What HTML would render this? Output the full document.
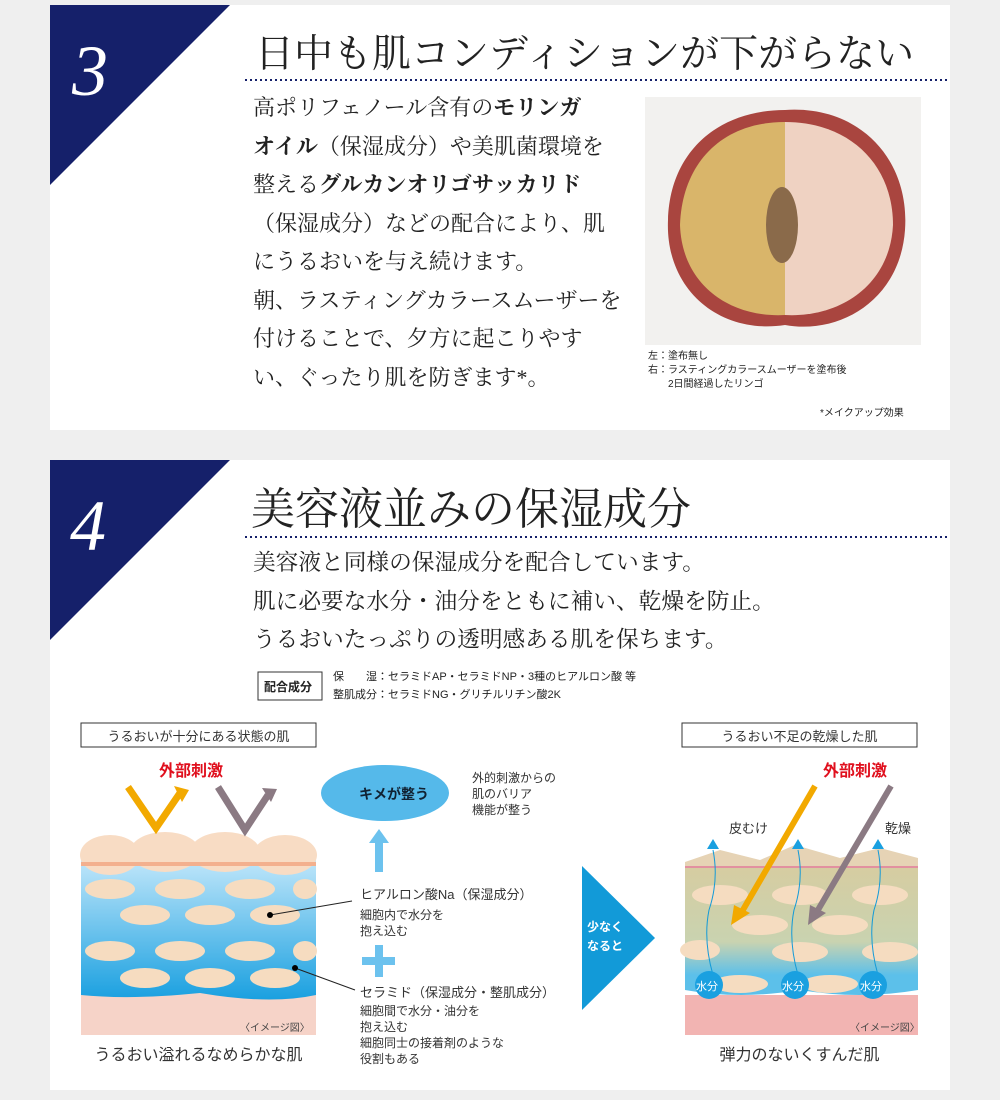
<!DOCTYPE html>
<html><head><meta charset="utf-8"><style>
body{margin:0;width:1000px;height:1100px;background:#efefef;position:relative;overflow:hidden;font-family:"Liberation Serif","Noto Serif CJK SC",serif;color:#222}
.a{position:absolute;white-space:nowrap}
.p{position:absolute;background:#fff}
.s{font-family:"Liberation Sans","Noto Sans CJK JP",sans-serif}
</style></head><body>
<div class="p" style="left:50px;top:5px;width:900px;height:425px"></div>
<div class="p" style="left:50px;top:460px;width:900px;height:630px"></div>
<svg class="a" style="left:0;top:0" width="1000" height="1100">
<polygon points="50,5 230,5 50,185" fill="#15206a"/>
<polygon points="50,460 230,460 50,640" fill="#15206a"/>
<text x="72" y="95" font-family="Liberation Serif" font-style="italic" font-size="72" fill="#fff">3</text>
<text x="70" y="550" font-family="Liberation Serif" font-style="italic" font-size="72" fill="#fff">4</text>
<line x1="245" y1="80" x2="950" y2="80" stroke="#15206a" stroke-width="2" stroke-dasharray="2,3"/>
<line x1="245" y1="537" x2="950" y2="537" stroke="#15206a" stroke-width="2" stroke-dasharray="2,3"/>
<!-- apple -->
<rect x="645" y="97" width="276" height="248" fill="#f2f1ef"/>
<path d="M785,110 C860,105 910,160 905,230 C900,300 840,335 785,325 C720,335 665,290 668,220 C670,150 720,110 785,110 Z" fill="#a9453f"/>
<path d="M785,122 C720,122 682,165 680,225 C682,285 730,318 785,315 Z" fill="#d9b56a"/>
<path d="M785,122 C850,122 893,165 893,225 C890,285 840,318 785,315 Z" fill="#efd2c2"/>
<ellipse cx="782" cy="225" rx="16" ry="38" fill="#8a6a4a"/>
<!-- ingredients box -->
<rect x="258" y="672" width="64" height="28" fill="#fff" stroke="#333"/>
<!-- left diagram -->
<rect x="81" y="723" width="235" height="24" fill="#fff" stroke="#333"/>
<defs>
<linearGradient id="bl" x1="0" y1="0" x2="0" y2="1"><stop offset="0" stop-color="#bfe6fa"/><stop offset="1" stop-color="#1aa0e0"/></linearGradient>
<linearGradient id="dr" x1="0" y1="0" x2="0" y2="1"><stop offset="0" stop-color="#d7cca0"/><stop offset="0.6" stop-color="#c9d3b0"/><stop offset="0.85" stop-color="#5cc0ea"/></linearGradient>
</defs>
<rect x="81" y="990" width="235" height="45" fill="#f6d3c8"/>
<path d="M81,860 H316 V995 Q270,1005 200,993 Q130,1000 81,995 Z" fill="url(#bl)"/>
<g fill="#f6dcc0">
<ellipse cx="110" cy="889" rx="25" ry="10"/><ellipse cx="180" cy="889" rx="25" ry="10"/><ellipse cx="250" cy="889" rx="25" ry="10"/><ellipse cx="305" cy="889" rx="12" ry="10"/>
<ellipse cx="145" cy="915" rx="25" ry="10"/><ellipse cx="210" cy="915" rx="25" ry="10"/><ellipse cx="275" cy="915" rx="25" ry="10"/>
<ellipse cx="110" cy="951" rx="25" ry="10"/><ellipse cx="180" cy="951" rx="25" ry="10"/><ellipse cx="250" cy="951" rx="25" ry="10"/><ellipse cx="305" cy="951" rx="12" ry="10"/>
<ellipse cx="145" cy="978" rx="25" ry="10"/><ellipse cx="210" cy="978" rx="25" ry="10"/><ellipse cx="275" cy="978" rx="25" ry="10"/>
</g>
<g fill="#f8dcc4"><ellipse cx="110" cy="855" rx="30" ry="20"/><ellipse cx="165" cy="852" rx="35" ry="20"/><ellipse cx="225" cy="852" rx="35" ry="20"/><ellipse cx="285" cy="855" rx="32" ry="20"/></g>
<rect x="81" y="862" width="235" height="4" fill="#f3b08e"/>
<polyline points="128,787 156,828 180,793" fill="none" stroke="#f2a900" stroke-width="7"/>
<polygon points="174,786 189,790 182,802" fill="#f2a900"/>
<polyline points="218,787 245,830 268,795" fill="none" stroke="#8b7a83" stroke-width="7"/>
<polygon points="262,788 277,789 271,802" fill="#8b7a83"/>
<line x1="270" y1="915" x2="352" y2="901" stroke="#222"/><circle cx="270" cy="915" r="3"/>
<line x1="295" y1="968" x2="355" y2="990" stroke="#222"/><circle cx="295" cy="968" r="3"/>
<ellipse cx="385" cy="793" rx="64" ry="28" fill="#55b9ea"/>
<rect x="375" y="842" width="8" height="30" fill="#6cc2ee"/><polygon points="369,843 389,843 379,829" fill="#6cc2ee"/>
<rect x="362" y="957" width="33" height="8" fill="#6cc2ee"/><rect x="375" y="945" width="8" height="32" fill="#6cc2ee"/>
<polygon points="582,866 655,938 582,1010" fill="#129ad8"/>
<!-- right diagram -->
<rect x="682" y="723" width="235" height="24" fill="#fff" stroke="#333"/>
<rect x="685" y="995" width="233" height="40" fill="#f2b4b2"/>
<path d="M685,862 H918 V990 Q860,1000 800,990 Q740,1000 685,990 Z" fill="url(#dr)"/>
<path d="M685,862 L720,850 L760,860 L795,845 L840,858 L880,848 L918,858 V868 H685 Z" fill="#e6d3b5"/>
<line x1="685" y1="867" x2="918" y2="867" stroke="#e07a9a" stroke-width="1.5"/>
<g fill="#f5dcc0"><ellipse cx="720" cy="895" rx="28" ry="10"/><ellipse cx="800" cy="895" rx="28" ry="10"/><ellipse cx="880" cy="895" rx="28" ry="10"/>
<ellipse cx="760" cy="925" rx="28" ry="10"/><ellipse cx="840" cy="925" rx="28" ry="10"/><ellipse cx="700" cy="950" rx="20" ry="10"/><ellipse cx="800" cy="952" rx="28" ry="10"/><ellipse cx="890" cy="952" rx="28" ry="10"/>
<ellipse cx="740" cy="984" rx="28" ry="9"/><ellipse cx="830" cy="984" rx="28" ry="9"/></g>
<g fill="none" stroke="#129ad8" stroke-width="1"><path d="M713,850 q6,30 -4,60 q-6,30 4,65"/><path d="M798,850 q6,30 -4,60 q-6,30 4,65"/><path d="M878,850 q6,30 -4,60 q-6,30 4,65"/></g>
<g fill="#1aa0e0"><polygon points="707,849 719,849 713,839"/><polygon points="792,849 804,849 798,839"/><polygon points="872,849 884,849 878,839"/>
<circle cx="709" cy="985" r="14"/><circle cx="795" cy="985" r="14"/><circle cx="873" cy="985" r="14"/></g>
<line x1="815" y1="786" x2="740" y2="915" stroke="#f2a900" stroke-width="6"/><polygon points="731,925 734,905 750,913" fill="#f2a900"/>
<line x1="891" y1="786" x2="815" y2="915" stroke="#8b7a83" stroke-width="6"/><polygon points="808,925 810,905 826,913" fill="#8b7a83"/>
</svg>
<div class="a" style="left:255px;top:23px;font-size:39px">日中も肌コンディションが下がらない</div>
<div class="a" style="left:253px;top:89px;font-size:22px;line-height:38.5px">高ポリフェノール含有の<b>モリンガ</b><br><b>オイル</b>（保湿成分）や美肌菌環境を<br>整える<b>グルカンオリゴサッカリド</b><br>（保湿成分）などの配合により、肌<br>にうるおいを与え続けます。<br>朝、ラスティングカラースムーザーを<br>付けることで、夕方に起こりやす<br>い、ぐったり肌を防ぎます*。</div>
<div class="a s" style="left:648px;top:350px;font-size:10px;line-height:14px">左：塗布無し<br>右：ラスティングカラースムーザーを塗布後<br>　　2日間経過したリンゴ</div>
<div class="a s" style="left:820px;top:404px;font-size:10px">*メイクアップ効果</div>
<div class="a" style="left:251px;top:473px;font-size:44px">美容液並みの保湿成分</div>
<div class="a" style="left:253px;top:544px;font-size:22.7px;line-height:38.5px">美容液と同様の保湿成分を配合しています。<br>肌に必要な水分・油分をともに補い、乾燥を防止。<br>うるおいたっぷりの透明感ある肌を保ちます。</div>
<div class="a s" style="left:264px;top:678px;font-size:12px;font-weight:bold">配合成分</div>
<div class="a s" style="left:333px;top:668px;font-size:11px;line-height:18px">保　　湿：セラミドAP・セラミドNP・3種のヒアルロン酸 等<br>整肌成分：セラミドNG・グリチルリチン酸2K</div>
<div class="a s" style="left:81px;top:726px;width:235px;text-align:center;font-size:13px;color:#333">うるおいが十分にある状態の肌</div>
<div class="a s" style="left:159px;top:757px;font-size:16px;font-weight:bold;color:#e0101e">外部刺激</div>
<div class="a s" style="left:359px;top:784px;font-size:14px;font-weight:bold;color:#123">キメが整う</div>
<div class="a s" style="left:472px;top:770px;font-size:12px;line-height:16px;color:#333">外的刺激からの<br>肌のバリア<br>機能が整う</div>
<div class="a s" style="left:360px;top:884px;font-size:13px;color:#333">ヒアルロン酸Na（保湿成分）</div>
<div class="a s" style="left:360px;top:907px;font-size:12px;line-height:16px;color:#333">細胞内で水分を<br>抱え込む</div>
<div class="a s" style="left:360px;top:982px;font-size:13px;color:#333">セラミド（保湿成分・整肌成分）</div>
<div class="a s" style="left:360px;top:1003px;font-size:12px;line-height:16px;color:#333">細胞間で水分・油分を<br>抱え込む<br>細胞同士の接着剤のような<br>役割もある</div>
<div class="a s" style="left:240px;top:1019px;font-size:10px;color:#444">〈イメージ図〉</div>
<div class="a s" style="left:81px;top:1041px;width:235px;text-align:center;font-size:16px;color:#333">うるおい溢れるなめらかな肌</div>
<div class="a s" style="left:587px;top:918px;font-size:12px;line-height:19px;color:#fff;font-weight:bold">少なく<br>なると</div>
<div class="a s" style="left:682px;top:726px;width:235px;text-align:center;font-size:13px;color:#333">うるおい不足の乾燥した肌</div>
<div class="a s" style="left:823px;top:757px;font-size:16px;font-weight:bold;color:#e0101e">外部刺激</div>
<div class="a s" style="left:729px;top:818px;font-size:13px;color:#333">皮むけ</div>
<div class="a s" style="left:885px;top:818px;font-size:13px;color:#333">乾燥</div>
<div class="a s" style="left:696px;top:978px;font-size:11px;color:#fff">水分</div>
<div class="a s" style="left:782px;top:978px;font-size:11px;color:#fff">水分</div>
<div class="a s" style="left:860px;top:978px;font-size:11px;color:#fff">水分</div>
<div class="a s" style="left:850px;top:1019px;font-size:10px;color:#444">〈イメージ図〉</div>
<div class="a s" style="left:682px;top:1041px;width:235px;text-align:center;font-size:16px;color:#333">弾力のないくすんだ肌</div>
</body></html>
